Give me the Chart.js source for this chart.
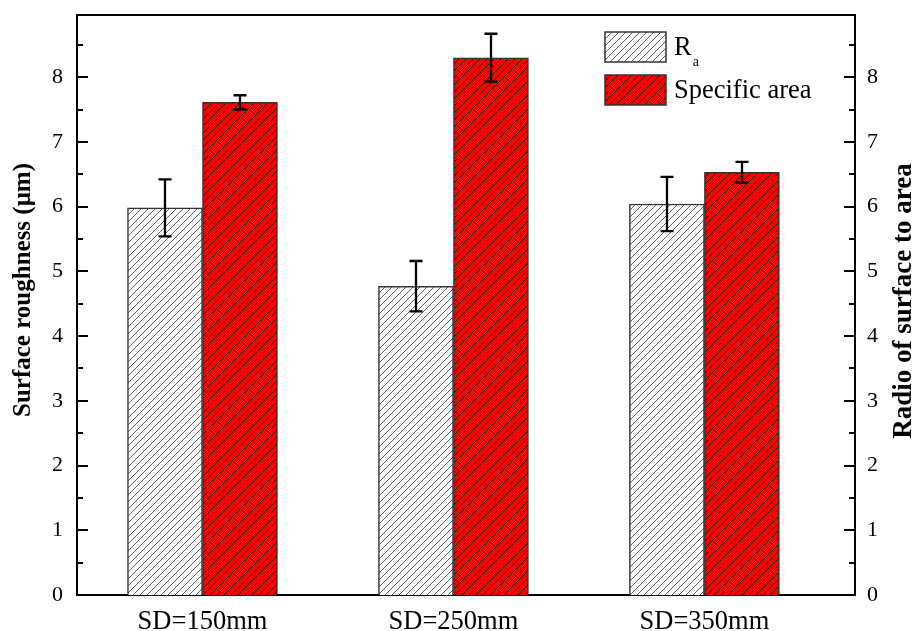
<!DOCTYPE html>
<html><head><meta charset="utf-8">
<script src="https://cdn.jsdelivr.net/npm/chart.js@4.4.0/dist/chart.umd.min.js"></script>
<style>html,body{margin:0;padding:0;background:#fff;} #wrap{width:917px;height:631px;}</style>
</head><body><div id="wrap"><canvas id="c" width="917" height="631"></canvas></div>
<script>
// ---- data ----
const categories = ['SD=150mm', 'SD=250mm', 'SD=350mm'];
const raValues = [5.98, 4.77, 6.04];
const raErrors = [0.44, 0.39, 0.42];
const areaValues = [7.61, 8.30, 6.53];
const areaErrors = [0.11, 0.37, 0.16];
const yTicks = [0, 1, 2, 3, 4, 5, 6, 7, 8];
const legendMain = ['R', 'Specific area'];
const legendSub = ['a', ''];
const leftTitle = 'Surface roughness (\u03bcm)';
const rightTitle = 'Radio of surface to area';

// ---- style ----
const FAM = "'Liberation Serif', 'Times New Roman', serif";
function hatch(bg, fg, s, lw) {
  const c = document.createElement('canvas');
  c.width = s; c.height = s;
  const g = c.getContext('2d');
  g.fillStyle = bg; g.fillRect(0, 0, s, s);
  g.strokeStyle = fg; g.lineWidth = lw;
  g.beginPath();
  g.moveTo(-1, s + 1); g.lineTo(s + 1, -1);
  g.moveTo(-1, 1); g.lineTo(1, -1);
  g.moveTo(s - 1, s + 1); g.lineTo(s + 1, s - 1);
  g.stroke();
  return document.getElementById('c').getContext('2d').createPattern(c, 'repeat');
}
const raFill = hatch('#ffffff', '#4a4a4a', 7, 0.9);
const areaFill = hatch('#ff0000', '#111111', 7, 0.9);
const fills = [raFill, areaFill];

const framePlugin = {
  id: 'frame',
  afterDatasetsDraw(chart) {
    const ctx = chart.ctx, a = chart.chartArea;
    ctx.save();
    ctx.strokeStyle = '#000'; ctx.lineWidth = 2;
    ctx.beginPath(); ctx.moveTo(a.left - 1, a.top); ctx.lineTo(a.right + 1, a.top); ctx.stroke();
    const y = chart.scales.y;
    ctx.beginPath();
    for (let v = 0.5; v <= y.max + 1e-9; v += 0.5) {
      const p = Math.round(y.getPixelForValue(v));
      const major = Math.abs(v - Math.round(v)) < 1e-6;
      const len = major ? 11 : 6;
      ctx.moveTo(a.left, p); ctx.lineTo(a.left + len, p);
      ctx.moveTo(a.right, p); ctx.lineTo(a.right - len, p);
    }
    ctx.stroke();
    const errs = [raErrors, areaErrors];
    ctx.lineWidth = 2.3;
    chart.data.datasets.forEach((ds, di) => {
      const meta = chart.getDatasetMeta(di);
      const sc = chart.scales[meta.yAxisID];
      meta.data.forEach((el, i) => {
        const v = ds.data[i].y, e = errs[di][i];
        const yt = sc.getPixelForValue(v + e), yb = sc.getPixelForValue(v - e);
        const x = Math.round(el.x);
        ctx.beginPath();
        ctx.moveTo(x, yt); ctx.lineTo(x, yb);
        ctx.moveTo(x - 6.5, yt); ctx.lineTo(x + 6.5, yt);
        ctx.moveTo(x - 6.5, yb); ctx.lineTo(x + 6.5, yb);
        ctx.stroke();
      });
    });
    ctx.restore();
  },
  afterDraw(chart) {
    const ctx = chart.ctx;
    ctx.save();
    const boxes = [32, 75];
    boxes.forEach((by, i) => {
      ctx.fillStyle = fills[i];
      ctx.fillRect(605, by, 61, 30);
      ctx.strokeStyle = '#333'; ctx.lineWidth = 1.5;
      ctx.strokeRect(605, by, 61, 30);
      ctx.fillStyle = '#000';
      ctx.textAlign = 'left'; ctx.textBaseline = 'alphabetic';
      ctx.font = '26.5px ' + FAM;
      const baseY = by + 23;
      ctx.fillText(legendMain[i], 674, baseY);
      if (legendSub[i]) {
        const w = ctx.measureText(legendMain[i]).width;
        ctx.font = '14px ' + FAM;
        ctx.fillText(legendSub[i], 674 + w + 1, baseY + 11);
      }
    });
    ctx.textAlign = 'center'; ctx.textBaseline = 'middle';
    ctx.fillStyle = '#000';
    ctx.font = 'bold 25px ' + FAM;
    ctx.save(); ctx.translate(24, 290); ctx.rotate(-Math.PI / 2); ctx.fillText(leftTitle, 0, 0); ctx.restore();
    ctx.font = 'bold 27px ' + FAM;
    ctx.save(); ctx.translate(904, 301); ctx.rotate(-Math.PI / 2); ctx.fillText(rightTitle, 0, 0); ctx.restore();
    ctx.restore();
  }
};

const yCommon = {
  min: 0, max: 8.96,
  afterBuildTicks: s => { s.ticks = yTicks.map(v => ({ value: v })); },
  grid: { display: false, drawTicks: false },
  border: { display: true, width: 2, color: '#000' },
};

new Chart(document.getElementById('c'), {
  type: 'bar',
  data: {
    datasets: [
      { label: 'Ra', data: raValues.map((v, i) => ({ x: i + 1, y: v })), backgroundColor: raFill,
        borderColor: '#333', borderWidth: 1.5, barThickness: 75, yAxisID: 'y' },
      { label: 'Specific area', data: areaValues.map((v, i) => ({ x: i + 1, y: v })), backgroundColor: areaFill,
        borderColor: '#333', borderWidth: 1.5, barThickness: 75, yAxisID: 'y2' }
    ]
  },
  options: {
    responsive: false, animation: false, devicePixelRatio: 1,
    layout: { padding: { top: 15, left: 0, right: 0, bottom: 0 } },
    plugins: { legend: { display: false }, tooltip: { enabled: false } },
    scales: {
      x: {
        type: 'linear', min: 0.5, max: 3.6, offset: false,
        grid: { display: false, drawTicks: false, offset: false },
        border: { display: true, width: 2, color: '#000' },
        afterBuildTicks: s => { s.ticks = categories.map((c, i) => ({ value: i + 1 })); },
        ticks: { callback: v => categories[Math.round(v) - 1] ?? '', font: { family: FAM, size: 26.5 }, color: '#000',
                 padding: 11, maxRotation: 0, autoSkip: false },
        afterFit: s => { s.height = 36; s.paddingLeft = 0; s.paddingRight = 0; }
      },
      y: Object.assign({}, yCommon, {
        position: 'left',
        ticks: { font: { family: FAM, size: 22 }, color: '#000', padding: 14 },
        afterFit: s => { s.width = 77; s.paddingTop = 0; s.paddingBottom = 0; }
      }),
      y2: Object.assign({}, yCommon, {
        position: 'right',
        ticks: { font: { family: FAM, size: 22 }, color: '#000', padding: 12 },
        afterFit: s => { s.width = 62; s.paddingTop = 0; s.paddingBottom = 0; }
      })
    }
  },
  plugins: [framePlugin]
});
</script>
</body></html>
